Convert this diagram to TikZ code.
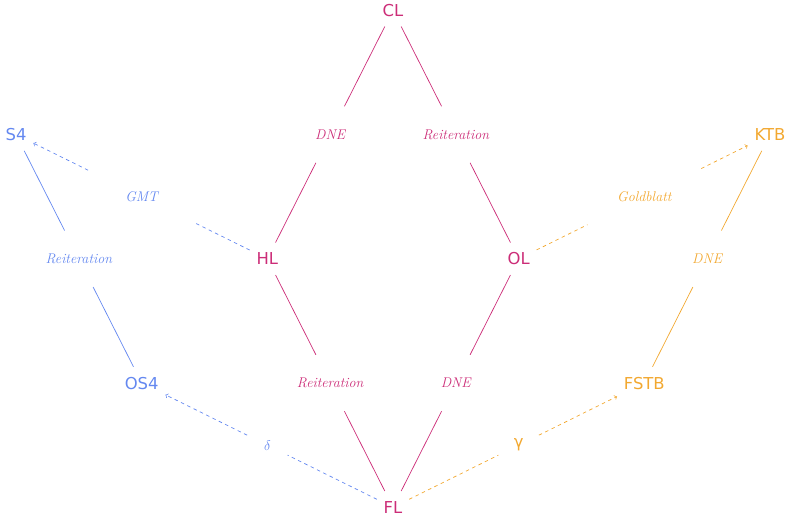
\documentclass[tikz,border=0pt]{standalone}
\usepackage{fontspec}
\setsansfont{DejaVu Sans}
\definecolor{logicpink}{RGB}{204,45,120}
\definecolor{modalblue}{RGB}{100,136,240}
\definecolor{tenseorange}{RGB}{242,168,48}

\begin{document}
\begin{tikzpicture}[x=1.885cm, y=3.7275cm,
    logic/.style={font=\sffamily\fontsize{14}{16}\selectfont, minimum height=0.96cm, inner xsep=0.2cm},
    rulelbl/.style={font=\itshape\fontsize{12}{14}\selectfont, minimum height=1.68cm, minimum width=0.9cm},
    translbl/.style={minimum height=0.6cm, minimum width=1.2cm},
    link/.style={line width=0.6pt},
    embed/.style={line width=0.6pt, dash pattern=on 3pt off 3pt}]
    \useasboundingbox (-0.255,-0.094) rectangle (12.303,4.083);

    % The logics
    \node[logic, text=logicpink] (CL) at (6,4) {CL};
    \node[logic, text=logicpink] (HL) at (4,2) {HL};
    \node[logic, text=logicpink] (OL) at (8,2) {OL};
    \node[logic, text=logicpink] (FL) at (6,0) {FL};
    \node[logic, text=modalblue] (S4) at (0,3) {S4};
    \node[logic, text=modalblue] (OS4) at (2,1) {OS4};
    \node[logic, text=tenseorange] (KTB) at (12,3) {KTB};
    \node[logic, text=tenseorange] (FSTB) at (10,1) {FSTB};

    % The rules between them
    \node[rulelbl, text=logicpink] (dneCH) at (5,3) {DNE};
    \node[rulelbl, text=logicpink] (reitCO) at (7,3) {Reiteration};
    \node[rulelbl, text=logicpink] (reitHF) at (5,1) {Reiteration};
    \node[rulelbl, text=logicpink] (dneOF) at (7,1) {DNE};
    \node[rulelbl, text=modalblue] (reitSO) at (1,2) {Reiteration};
    \node[rulelbl, text=tenseorange] (dneKF) at (11,2) {DNE};

    % The translations
    \node[rulelbl, text=modalblue, minimum width=3.2cm] (gmt) at (2,2.5) {GMT};
    \node[rulelbl, text=tenseorange, minimum width=3.4cm] (gold) at (10,2.5) {Goldblatt};
    \node[translbl, text=modalblue, font=\fontsize{13}{15}\selectfont] (delta) at (4,0.5) {$\delta$};
    \node[translbl, text=tenseorange, font=\sffamily\fontsize{14}{16}\selectfont] (gamma) at (8,0.5) {γ};

    % Draw the extensions
    \draw[link, logicpink] (CL) -- (dneCH) (dneCH) -- (HL);
    \draw[link, logicpink] (CL) -- (reitCO) (reitCO) -- (OL);
    \draw[link, logicpink] (HL) -- (reitHF) (reitHF) -- (FL);
    \draw[link, logicpink] (OL) -- (dneOF) (dneOF) -- (FL);
    \draw[link, modalblue] (S4) -- (reitSO) (reitSO) -- (OS4);
    \draw[link, tenseorange] (KTB) -- (dneKF) (dneKF) -- (FSTB);

    % Draw the translations
    \draw[embed, modalblue] (HL) -- (gmt);
    \draw[embed, modalblue, ->] (gmt) -- (S4);
    \draw[embed, tenseorange] (OL) -- (gold);
    \draw[embed, tenseorange, ->] (gold) -- (KTB);
    \draw[embed, modalblue] (FL) -- (delta);
    \draw[embed, modalblue, ->] (delta) -- (OS4);
    \draw[embed, tenseorange] (FL) -- (gamma);
    \draw[embed, tenseorange, ->] (gamma) -- (FSTB);
\end{tikzpicture}
\end{document}
